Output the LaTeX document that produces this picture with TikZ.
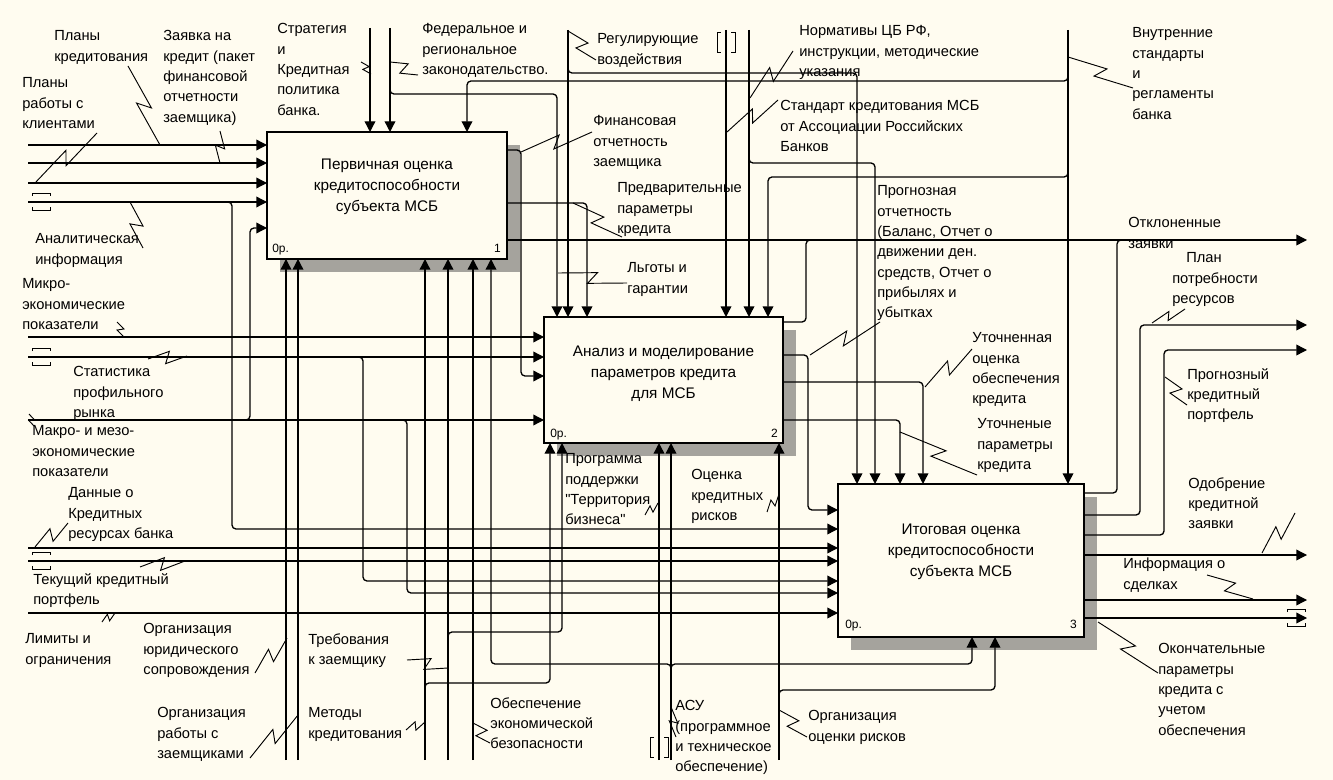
\documentclass[tikz,border=0pt]{standalone}
\usepackage{fontspec}
\setmainfont{Liberation Sans}[Ligatures=TeXOff]
\usetikzlibrary{arrows.meta,calc,shadows}

\definecolor{paper}{RGB}{255,252,240}
\definecolor{shade}{RGB}{165,163,157}

\newcommand\lblstrut{\rule{0pt}{7.9pt}}
\newcommand\boxstrut{\rule{0pt}{8.3pt}}

% leader line with a zigzag in the middle
\newcommand\zig[3][4.5pt]{\draw[lead] (#2) -- ($(#2)!0.56!(#3)!#1!90:(#3)$) -- ($(#2)!0.44!(#3)!#1!-90:(#3)$) -- (#3);}
% tunnel brackets at the free end of a horizontal arrow
\newcommand\tunh[2]{%
  \draw[lead] (#1,#2-6) -- (#1,#2-9) -- (#1+18,#2-9) -- (#1+18,#2-6);
  \draw[lead] (#1,#2+5) -- (#1,#2+8) -- (#1+18,#2+8) -- (#1+18,#2+5);}
% tunnel brackets at the free end of a vertical arrow
\newcommand\tunv[2]{%
  \draw[lead] (#1-5,#2) -- (#1-9,#2) -- (#1-9,#2+20) -- (#1-5,#2+20);
  \draw[lead] (#1+5,#2) -- (#1+9,#2) -- (#1+9,#2+20) -- (#1+5,#2+20);}

\tikzset{
  proc/.style={draw, line width=2pt, fill=paper, outer sep=0pt, inner sep=0pt,
    drop shadow={shadow xshift=9.75pt, shadow yshift=-9.75pt, fill=shade, opacity=1}},
  conn/.style={line width=1pt, rounded corners=3pt},
  arr/.style={conn, -{Triangle[length=8pt,width=8pt]}},
  lead/.style={line width=0.7pt},
  lbl/.style={font=\fontsize{11}{15.25}\selectfont, align=left, anchor=north west, inner sep=0pt},
  boxtxt/.style={font=\fontsize{11.5}{15.75}\selectfont, align=center, anchor=north, inner sep=0pt},
  num/.style={font=\fontsize{9}{11}\selectfont, inner sep=0pt}
}

\begin{document}
\begin{tikzpicture}[x=0.75pt,y=-0.75pt]
\useasboundingbox (0,0) rectangle (1333,780);
\fill[paper] (0,0) rectangle (1333,780);

% activity boxes
\node[proc, minimum width=180pt, minimum height=95.25pt] (b1) at (387,195.5) {};
\node[proc, minimum width=179.25pt, minimum height=94.5pt] (b2) at (663.5,380) {};
\node[proc, minimum width=184.5pt, minimum height=114.75pt] (b3) at (961,560.5) {};

% inputs of box 1
\draw[arr] (28,145) -- (b1.west |- 0,145);
\draw[arr] (28,163) -- (b1.west |- 0,163);
\draw[arr] (28,183) -- (b1.west |- 0,183);
\draw[arr] (28,202) -- (b1.west |- 0,202);
\draw[arr] (236,420) -- (250,420) -- (250,228) -- (b1.west |- 0,228);
\draw[arr] (220,202) -- (232,202) -- (232,529) -- (b3.west |- 0,529);

% inputs of box 2
\draw[arr] (28,337) -- (b2.west |- 0,337);
\draw[arr] (28,357) -- (b2.west |- 0,357);
\draw[arr] (b1.east |- 0,150) -- (521,150) -- (521,376) -- (b2.west |- 0,376);
\draw[arr] (28,420) -- (b2.west |- 0,420);

% inputs of box 3
\draw[arr] (b2.east |- 0,355) -- (808,355) -- (808,510) -- (b3.west |- 0,510);
\draw[arr] (28,548) -- (b3.west |- 0,548);
\draw[arr] (28,561) -- (b3.west |- 0,561);
\draw[arr] (352,357) -- (363,357) -- (363,581) -- (b3.west |- 0,581);
\draw[arr] (396,420) -- (407,420) -- (407,593) -- (b3.west |- 0,593);
\draw[arr] (28,613) -- (b3.west |- 0,613);

% controls
\draw[arr] (370,28) -- (b1.north -| 370,0);
\draw[arr] (390,28) -- (b1.north -| 390,0);
\draw[arr] (390,84) -- (390,94) -- (557,94) -- (b2.north -| 557,0);
\draw[arr] (1068,70) -- (1068,81) -- (467,81) -- (b1.north -| 467,0);
\draw[arr] (568,30) -- (b2.north -| 568,0);
\draw[arr] (568,62) -- (568,73) -- (857,73) -- (b3.north -| 857,0);
\draw[arr] (726,30) -- (b2.north -| 726,0);
\draw[arr] (749,30) -- (b2.north -| 749,0);
\draw[arr] (749,152) -- (749,163) -- (875,163) -- (b3.north -| 875,0);
\draw[arr] (1068,166) -- (1068,177) -- (768,177) -- (b2.north -| 768,0);
\draw[arr] (b1.east |- 0,203) -- (587,203) -- (b2.north -| 587,0);
\draw[arr] (1068,30) -- (b3.north -| 1068,0);
\draw[arr] (b2.east |- 0,382) -- (923,382) -- (b3.north -| 923,0);
\draw[arr] (b2.east |- 0,420) -- (900,420) -- (b3.north -| 900,0);

% outputs
\draw[arr] (b1.east |- 0,240) -- (1307,240);
\draw[conn] (b2.east |- 0,322) -- (806,322) -- (806,240) -- (818,240);
\draw[conn] (b3.east |- 0,493) -- (1117,493) -- (1117,240) -- (1129,240);
\draw[arr] (b3.east |- 0,515) -- (1140,515) -- (1140,325) -- (1307,325);
\draw[arr] (b3.east |- 0,535) -- (1164,535) -- (1164,350) -- (1307,350);
\draw[arr] (b3.east |- 0,555) -- (1307,555);
\draw[arr] (b3.east |- 0,600) -- (1307,600);
\draw[arr] (b3.east |- 0,618) -- (1307,618);

% mechanisms
\draw[arr] (286,760) -- (b1.south -| 286,0);
\draw[arr] (298,760) -- (b1.south -| 298,0);
\draw[arr] (425,760) -- (b1.south -| 425,0);
\draw[arr] (425,693) -- (425,683) -- (550,683) -- (b2.south -| 550,0);
\draw[arr] (448,760) -- (b1.south -| 448,0);
\draw[arr] (448,642) -- (448,632) -- (562,632) -- (b2.south -| 562,0);
\draw[arr] (473,760) -- (b1.south -| 473,0);
\draw[arr] (659,760) -- (b2.south -| 659,0);
\draw[arr] (671,760) -- (b2.south -| 671,0);
\draw[arr] (671,674) -- (671,664) -- (491,664) -- (b1.south -| 491,0);
\draw[arr] (671,674) -- (671,664) -- (972,664) -- (b3.south -| 972,0);
\draw[arr] (779,760) -- (b2.south -| 779,0);
\draw[arr] (779,700) -- (779,690) -- (995,690) -- (b3.south -| 995,0);

% tunnel brackets
\tunh{32}{202}
\tunh{32}{357}
\tunh{32}{561}
\tunh{1287}{618}
\tunv{726}{32}
\tunv{659}{737}

% leader lines
\zig{160,145}{128,66}
\zig[3.5pt]{220,163}{220,131}
\zig{35,183}{97,133}
\zig{130,202}{143,248}
\zig[2.5pt]{371,74}{361,62}
\zig{390,62}{418,75}
\zig{568,31}{596,60}
\zig{750,98}{793,51}
\zig{727,132}{778,100}
\zig{1068,57}{1133,88}
\zig{521,152}{592,132}
\zig{573,203}{622,237}
\zig{558,273}{627,283}
\zig{810,355}{880,322}
\zig[3pt]{1152,323}{1185,309}
\zig{1165,377}{1187,405}
\zig{1262,553}{1295,513}
\zig{1253,599}{1207,575}
\zig{1098,622}{1158,673}
\zig{925,387}{972,349}
\zig{900,432}{977,475}
\zig[2.5pt]{658,503}{645,515}
\zig[2.5pt]{779,494}{767,512}
\zig[2.5pt]{124,337}{117,322}
\zig{187,356}{148,359}
\zig[2pt]{29,414}{34,426}
\zig{35,547}{68,523}
\zig{185,561}{140,567}
\zig[2.5pt]{115,613}{102,622}
\zig{287,638}{255,673}
\zig{298,715}{250,758}
\zig{448,668}{407,660}
\zig[3pt]{425,722}{406,730}
\zig{473,723}{490,743}
\zig[3pt]{671,707}{676,737}
\zig{779,710}{807,737}

% box texts
\node[boxtxt] (b1t) at (387,158) {\boxstrut Первичная оценка\\кредитоспособности\\субъекта МСБ};
\node[boxtxt] (b2t) at (663.5,345) {\boxstrut Анализ и моделирование\\параметров кредита\\для МСБ};
\node[boxtxt] (b3t) at (961,523) {\boxstrut Итоговая оценка\\кредитоспособности\\субъекта МСБ};
\node[num, anchor=base west] (b1c) at (272,253) {0р.};
\node[num, anchor=base east] (b1n) at (501,253) {1};
\node[num, anchor=base west] (b2c) at (550,437) {0р.};
\node[num, anchor=base east] (b2n) at (778,437) {2};
\node[num, anchor=base west] (b3c) at (845,628) {0р.};
\node[num, anchor=base east] (b3n) at (1077,628) {3};

% arrow labels
\node[lbl] (l1) at (54,30) {\lblstrut Планы\\кредитования};
\node[lbl] (l2) at (163,30) {\lblstrut Заявка на\\кредит (пакет\\финансовой\\отчетности\\заемщика)};
\node[lbl] (l3) at (22,77) {\lblstrut Планы\\работы с\\клиентами};
\node[lbl] (l4) at (277,23) {\lblstrut Стратегия\\и\\Кредитная\\политика\\банка.};
\node[lbl] (l5) at (422,23) {\lblstrut Федеральное и\\региональное\\законодательство.};
\node[lbl] (l6) at (597,33) {\lblstrut Регулирующие\\воздействия};
\node[lbl] (l7) at (799,25) {\lblstrut Нормативы ЦБ РФ,\\инструкции, методические\\указания};
\node[lbl] (l8) at (780,100) {\lblstrut Стандарт кредитования МСБ\\от Ассоциации Российских\\Банков};
\node[lbl] (l9) at (1132,27) {\lblstrut Внутренние\\стандарты\\и\\регламенты\\банка};
\node[lbl] (l10) at (593,115) {\lblstrut Финансовая\\отчетность\\заемщика};
\node[lbl] (l11) at (617,182) {\lblstrut Предварительные\\параметры\\кредита};
\node[lbl] (l12) at (877,185) {\lblstrut Прогнозная\\отчетность\\(Баланс, Отчет о\\движении ден.\\средств, Отчет о\\прибылях и\\убытках};
\node[lbl] (l13) at (1128,217) {\lblstrut Отклоненные\\заявки};
\node[lbl] (l14) at (1172,252) {\lblstrut \hspace*{10.5pt}План\\потребности\\ресурсов};
\node[lbl] (l15) at (1187,368) {\lblstrut Прогнозный\\кредитный\\портфель};
\node[lbl] (l16) at (1188,477) {\lblstrut Одобрение\\кредитной\\заявки};
\node[lbl] (l17) at (1123,558) {\lblstrut Информация о\\сделках};
\node[lbl] (l18) at (1158,643) {\lblstrut Окончательные\\параметры\\кредита с\\учетом\\обеспечения};
\node[lbl] (l19) at (972,332) {\lblstrut Уточненная\\оценка\\обеспечения\\кредита};
\node[lbl] (l20) at (977,418) {\lblstrut Уточненые\\параметры\\кредита};
\node[lbl] (l21) at (627,262) {\lblstrut Льготы и\\гарантии};
\node[lbl] (l22) at (565,453) {\lblstrut Программа\\поддержки\\"Территория\\бизнеса"};
\node[lbl] (l23) at (691,469) {\lblstrut Оценка\\кредитных\\рисков};
\node[lbl] (l24) at (35,233) {\lblstrut Аналитическая\\информация};
\node[lbl] (l25) at (22,278) {\lblstrut Микро-\\экономические\\показатели};
\node[lbl] (l26) at (73,366) {\lblstrut Статистика\\профильного\\рынка};
\node[lbl] (l27) at (32,425) {\lblstrut Макро- и мезо-\\экономические\\показатели};
\node[lbl] (l28) at (68,487) {\lblstrut Данные о\\Кредитных\\ресурсах банка};
\node[lbl] (l29) at (33,573) {\lblstrut Текущий кредитный\\портфель};
\node[lbl] (l30) at (25,633) {\lblstrut Лимиты и\\ограничения};
\node[lbl] (l31) at (143,623) {\lblstrut Организация\\юридического\\сопровождения};
\node[lbl] (l32) at (157,707) {\lblstrut Организация\\работы с\\заемщиками};
\node[lbl] (l33) at (308,633) {\lblstrut Требования\\к заемщику};
\node[lbl] (l34) at (308,707) {\lblstrut Методы\\кредитования};
\node[lbl] (l35) at (490,697) {\lblstrut Обеспечение\\экономической\\безопасности};
\node[lbl] (l36) at (675,700) {\lblstrut АСУ\\(программное\\и техническое\\обеспечение)};
\node[lbl] (l37) at (808,710) {\lblstrut Организация\\оценки рисков};
\end{tikzpicture}
\end{document}
